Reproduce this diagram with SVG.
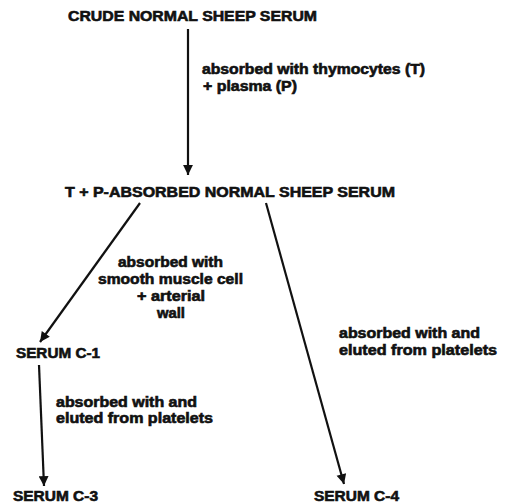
<svg xmlns="http://www.w3.org/2000/svg" width="505" height="504" viewBox="0 0 505 504">
<style>
text{font-family:"Liberation Sans",Arial,sans-serif;font-weight:bold;fill:#111;stroke:#111;stroke-width:0.6;}
.n{font-size:14.5px;}
.l{font-size:14px;}
.c{stroke:#111;stroke-width:2.2;fill:none;}
</style>
<defs>
<marker id="ah" viewBox="0 0 10 10" refX="10" refY="5" markerWidth="5" markerHeight="4.5" orient="auto" markerUnits="strokeWidth">
<path d="M0,0 L10,5 L0,10 Z" fill="#111"/>
</marker>
</defs>
<rect width="505" height="504" fill="#fff"/>
<g id="connectors">
<line class="c" x1="188" y1="29" x2="188" y2="175" marker-end="url(#ah)"/>
<line class="c" x1="140" y1="203" x2="40" y2="342" marker-end="url(#ah)"/>
<line class="c" x1="266" y1="203" x2="344" y2="484" marker-end="url(#ah)"/>
<line class="c" x1="39" y1="365" x2="44" y2="486" marker-end="url(#ah)"/>
<g id="labels">
<text class="l" x="202" y="74" textLength="223" lengthAdjust="spacingAndGlyphs">absorbed with thymocytes (T)</text>
<text class="l" x="203" y="91" textLength="94" lengthAdjust="spacingAndGlyphs">+ plasma (P)</text>
<text class="l" x="118" y="267" textLength="105" lengthAdjust="spacingAndGlyphs">absorbed with</text>
<text class="l" x="98" y="284" textLength="145" lengthAdjust="spacingAndGlyphs">smooth muscle cell</text>
<text class="l" x="137" y="301" textLength="68" lengthAdjust="spacingAndGlyphs">+ arterial</text>
<text class="l" x="157" y="318" textLength="28" lengthAdjust="spacingAndGlyphs">wall</text>
<text class="l" x="56" y="407" textLength="141" lengthAdjust="spacingAndGlyphs">absorbed with and</text>
<text class="l" x="56" y="423" textLength="157" lengthAdjust="spacingAndGlyphs">eluted from platelets</text>
<text class="l" x="339" y="338" textLength="141" lengthAdjust="spacingAndGlyphs">absorbed with and</text>
<text class="l" x="339" y="355" textLength="158" lengthAdjust="spacingAndGlyphs">eluted from platelets</text>
</g>
</g>
<g id="crude"><text class="n" x="68" y="21" textLength="249" lengthAdjust="spacingAndGlyphs">CRUDE NORMAL SHEEP SERUM</text></g>
<g id="tp"><text class="n" x="65" y="197" textLength="330" lengthAdjust="spacingAndGlyphs">T + P-ABSORBED NORMAL SHEEP SERUM</text></g>
<g id="c1"><text class="n" x="16" y="358" textLength="84" lengthAdjust="spacingAndGlyphs">SERUM C-1</text></g>
<g id="c3"><text class="n" x="13" y="501" textLength="85" lengthAdjust="spacingAndGlyphs">SERUM C-3</text></g>
<g id="c4"><text class="n" x="314" y="501" textLength="85" lengthAdjust="spacingAndGlyphs">SERUM C-4</text></g>
</svg>
